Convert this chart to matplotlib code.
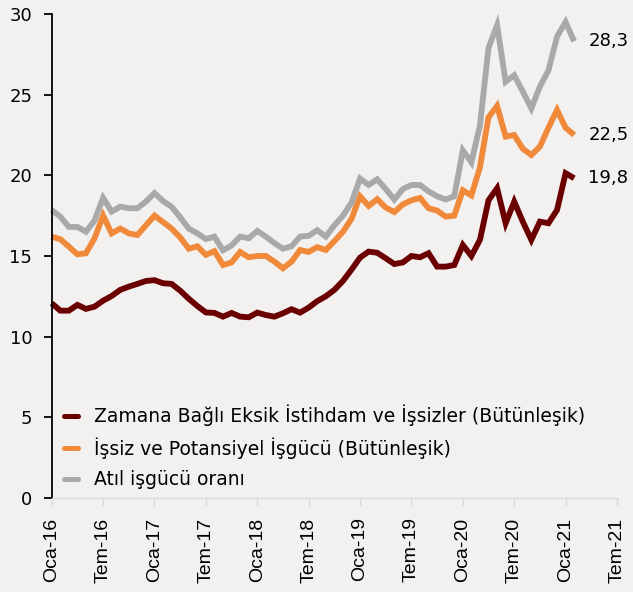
import numpy as np
import matplotlib
matplotlib.use("Agg")
import matplotlib.pyplot as plt

# ---------------------------------------------------------------------
# Data (monthly, Oca-16 .. Şub-21)
# ---------------------------------------------------------------------

zamana_bagli = [
    12.07, 11.61, 11.61, 11.97, 11.72, 11.86, 12.23, 12.52, 12.90, 13.10,
    13.27, 13.45, 13.50, 13.31, 13.27, 12.85, 12.35, 11.90, 11.50, 11.47,
    11.24, 11.47, 11.24, 11.20, 11.49, 11.34, 11.24, 11.45, 11.70, 11.49,
    11.80, 12.20, 12.50, 12.90, 13.45, 14.15, 14.90, 15.27, 15.20, 14.86,
    14.50, 14.60, 15.00, 14.92, 15.17, 14.34, 14.34, 14.44, 15.68, 15.00,
    16.00, 18.45, 19.20, 17.03, 18.37, 17.13, 16.00, 17.13, 17.03, 17.85,
    20.13, 19.82,
]

issiz_potansiyel = [
    16.20, 16.04, 15.58, 15.10, 15.17, 16.10, 17.50, 16.40, 16.70, 16.40,
    16.30, 16.90, 17.50, 17.10, 16.70, 16.15, 15.45, 15.60, 15.07, 15.30,
    14.44, 14.60, 15.25, 14.92, 15.00, 15.00, 14.65, 14.24, 14.65, 15.37,
    15.25, 15.55, 15.37, 15.92, 16.50, 17.30, 18.70, 18.10, 18.52, 18.00,
    17.72, 18.20, 18.45, 18.60, 17.96, 17.81, 17.44, 17.50, 19.07, 18.75,
    20.50, 23.60, 24.30, 22.40, 22.50, 21.65, 21.26, 21.78, 22.95, 24.05,
    22.95, 22.50,
]

atil_isgucu = [
    17.85, 17.44, 16.80, 16.80, 16.50, 17.20, 18.60, 17.75, 18.06, 17.96,
    17.96, 18.37, 18.90, 18.40, 18.05, 17.40, 16.70, 16.40, 16.05, 16.20,
    15.35, 15.65, 16.20, 16.10, 16.55, 16.20, 15.80, 15.45, 15.60, 16.20,
    16.25, 16.60, 16.20, 16.90, 17.50, 18.30, 19.80, 19.40, 19.75, 19.15,
    18.50, 19.15, 19.40, 19.40, 19.00, 18.70, 18.50, 18.70, 21.55, 20.80,
    23.10, 27.90, 29.30, 25.80, 26.20, 25.20, 24.15, 25.50, 26.50, 28.60,
    29.50, 28.30,
]

series_labels = [
    "Zamana Bağlı Eksik İstihdam ve İşsizler (Bütünleşik)",
    "İşsiz ve Potansiyel İşgücü (Bütünleşik)",
    "Atıl işgücü oranı",
]

tick_labels = ["Oca-16", "Tem-16", "Oca-17", "Tem-17", "Oca-18", "Tem-18",
               "Oca-19", "Tem-19", "Oca-20", "Tem-20", "Oca-21", "Tem-21"]

# ---------------------------------------------------------------------
# Styling
# ---------------------------------------------------------------------

BG = "#f2f1ef"
COLORS = ["#6a0000", "#f0893a", "#a9a9a9"]
TEXT_FONT = ["DejaVu Sans"]
TICK_FONT = ["Liberation Sans"]

fig = plt.figure(figsize=(6.33, 5.92), dpi=100, facecolor=BG)
ax = fig.add_axes([0.0817, 0.1588, 0.893, 0.8176])
ax.set_facecolor(BG)

all_series = [zamana_bagli, issiz_potansiyel, atil_isgucu]
months = np.arange(len(zamana_bagli))

for values, color, label in zip(all_series, COLORS, series_labels):
    ax.plot(months, values, color=color, lw=4.2, label=label,
            solid_joinstyle="miter", solid_capstyle="butt", clip_on=False)
    last = values[-1]
    ax.annotate(f"{last:.1f}".replace(".", ","), xy=(months[-1], last),
                xytext=(14, 0), textcoords="offset pixels",
                va="center", ha="left", fontsize=13, family=TEXT_FONT,
                color="black")

ax.set_xlim(0, 66)
ax.set_ylim(0, 30)
ax.set_yticks(np.arange(0, 31, 5))
ax.set_xticks(np.arange(0, 67, 6))
ax.set_xticklabels(tick_labels, rotation=90, fontsize=14, family=TICK_FONT)
for lbl in ax.get_yticklabels():
    lbl.set_family(TEXT_FONT)
    lbl.set_fontsize(13)

for side in ["top", "right"]:
    ax.spines[side].set_visible(False)
ax.spines["left"].set_color("black")
ax.spines["left"].set_linewidth(1.3)
ax.spines["bottom"].set_color("#d9d9d9")
ax.spines["bottom"].set_linewidth(1.0)
ax.tick_params(axis="y", direction="out", length=6, width=1.3, color="black", pad=8)
ax.tick_params(axis="x", direction="out", length=6, width=1.0, color="#d9d9d9", pad=8)

leg = ax.legend(loc="lower left", bbox_to_anchor=(0.0, -0.008), frameon=False,
                prop={"family": TEXT_FONT, "size": 13.5}, handlelength=0.7,
                handletextpad=0.85, labelspacing=0.6, borderaxespad=0.28)
for line in leg.get_lines():
    line.set_linewidth(3.6)
    line.set_solid_capstyle("round")

fig.savefig("out.png", dpi=100, facecolor=BG)
